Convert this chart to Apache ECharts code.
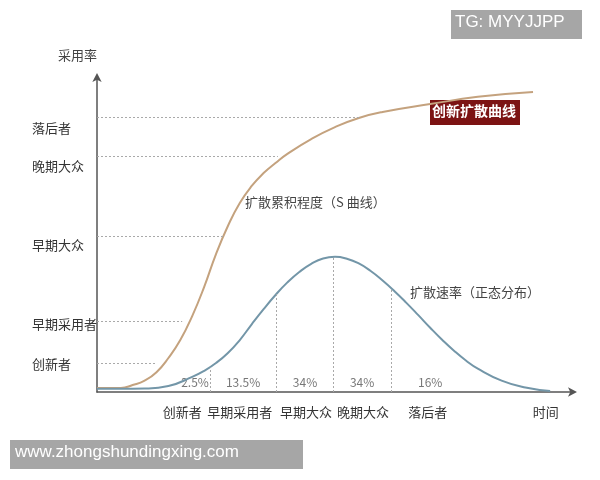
<!DOCTYPE html>
<html>
<head>
<meta charset="utf-8">
<script src="https://cdn.jsdelivr.net/npm/echarts@6/dist/echarts.min.js"></script>
<style>
  html, body { margin: 0; padding: 0; background: #fff; }
  #chart { width: 600px; height: 480px; }
</style>
</head>
<body>
<div id="chart"></div>
<script>
// 累积采用曲线（S 曲线），读图估计 [时间, 采用率]
const sCurve = [
  [0, 1.3], [5, 1.3], [7.5, 2.2], [10, 3.6], [12.5, 6.3], [15, 10.8], [17.5, 16.5],
  [20, 24.1], [22.5, 33.3], [25, 43.8], [27.5, 52.7], [30, 60.0],
  [32.5, 65.4], [35, 69.5], [37.5, 72.7], [40, 75.6], [45, 80.3],
  [50, 84.1], [55, 87.0], [60, 88.9], [70, 91.4], [80, 93.7], [91.6, 95.2]
];
// 扩散速率（正态分布）
const bellCurve = [
  [0, 1.0], [5, 1.0], [10, 1.1], [15, 1.9], [20, 4.8], [22.5, 6.7],
  [25, 9.2], [27.5, 12.4], [30, 16.5], [32.5, 21.5], [35, 26.3],
  [37.5, 30.8], [40, 34.8], [42.5, 38.1], [45, 40.7], [47.5, 42.4],
  [50, 42.9], [52.5, 42.3], [55, 40.8], [57.5, 38.4], [60, 35.4],
  [62.5, 32.0], [65, 28.3], [67.5, 24.4], [70, 20.4], [72.5, 16.6],
  [75, 13.1], [77.5, 10.0], [80, 7.4], [85, 3.6], [90, 1.4], [95.2, 0.3]
];

// 纵轴：各群体的采用率水平线
const groupNames = ['创新者', '早期采用者', '早期大众', '晚期大众', '落后者'];
const guideLevels = [9.2, 22.5, 49.5, 75.0, 87.3];   // 虚线高度
const guideEnds = [12.2, 17.9, 26.5, 38.0, 55.3];    // 虚线与 S 曲线交点
const yLabelPos = [8.9, 21.6, 46.7, 71.7, 83.8];     // 纵轴文字位置

// 横轴：分界线与各段占比
const dividers = [23.7, 37.6, 49.6, 61.8];
const dividerTops = [7.8, 31.0, 42.9, 33.0];
const shareLabels = ['2.5%', '13.5%', '34%', '34%', '16%'];
const sharePos = [20.6, 30.7, 43.7, 55.7, 70.0];
const xLabelNames = ['创新者', '早期采用者', '早期大众', '晚期大众', '落后者', '时间'];
const xLabelPos = [17.9, 30.0, 43.9, 55.9, 69.5, 94.3];

const FONT = '"Noto Sans CJK SC", "Noto Sans", sans-serif';
const dotted = { color: '#a9a9a9', type: [2, 2], width: 1 };

const chart = echarts.init(document.getElementById('chart'));
chart.setOption({
  animation: false,
  textStyle: { fontFamily: FONT },
  grid: { left: 97, right: 27, top: 77, bottom: 88 },
  xAxis: {
    type: 'value', min: 0, max: 100,
    splitLine: { show: false },
    axisTick: { show: false },
    axisLine: {
      lineStyle: { color: '#555', width: 1.5 },
      symbol: ['none', 'arrow'], symbolSize: [7, 9], symbolOffset: [0, 4]
    },
    axisLabel: {
      customValues: xLabelPos,
      formatter: (v) => xLabelNames[xLabelPos.indexOf(v)] || '',
      color: '#333', fontSize: 13, margin: 14, fontFamily: FONT
    }
  },
  yAxis: {
    type: 'value', min: 0, max: 100,
    name: '采用率', nameGap: 15,
    nameTextStyle: { color: '#444', fontSize: 13, align: 'right', fontFamily: FONT },
    splitLine: { show: false },
    axisTick: { show: false },
    axisLine: {
      lineStyle: { color: '#555', width: 1.5 },
      symbol: ['none', 'arrow'], symbolSize: [7, 9], symbolOffset: [0, 4]
    },
    axisLabel: {
      customValues: yLabelPos,
      formatter: (v) => groupNames[yLabelPos.indexOf(v)] || '',
      color: '#333', fontSize: 13, margin: 65, align: 'left', fontFamily: FONT
    }
  },
  series: [
    {
      name: 'S 曲线', type: 'line', data: sCurve, smooth: true,
      showSymbol: false, z: 3,
      lineStyle: { color: '#c4a27e', width: 2 },
      markLine: {
        silent: true, symbol: 'none', label: { show: false },
        lineStyle: dotted,
        data: guideLevels.map((y, i) => [{ coord: [0, y] }, { coord: [guideEnds[i], y] }])
      }
    },
    {
      name: '扩散速率', type: 'line', data: bellCurve, smooth: true,
      showSymbol: false, z: 3,
      lineStyle: { color: '#7396a8', width: 2 },
      markLine: {
        silent: true, symbol: 'none', label: { show: false },
        lineStyle: dotted,
        data: dividers.map((x, i) => [{ coord: [x, 0] }, { coord: [x, dividerTops[i]] }])
      }
    },
    {
      name: '占比', type: 'scatter', symbolSize: 0, silent: true,
      data: sharePos.map((x, i) => ({ value: [x, 2.9], name: shareLabels[i] })),
      label: {
        show: true, position: 'inside', formatter: '{b}',
        color: '#555', fontSize: 12, fontFamily: FONT
      }
    }
  ],
  graphic: [
    { type: 'rect', z: 1, shape: { x: 430, y: 100, width: 90, height: 25 }, style: { fill: '#7c1313' } },
    { type: 'text', z: 1, left: 432, top: 104, style: { text: '创新扩散曲线', fill: '#fff', font: 'bold 14px ' + FONT } },
    { type: 'text', left: 245, top: 196, style: { text: '扩散累积程度（S 曲线）', fill: '#444', font: '13px ' + FONT } },
    { type: 'text', left: 410, top: 286, style: { text: '扩散速率（正态分布）', fill: '#444', font: '13px ' + FONT } },
    { type: 'rect', shape: { x: 451, y: 10, width: 131, height: 29 }, style: { fill: '#a6a6a6' } },
    { type: 'text', left: 455, top: 14, style: { text: 'TG: MYYJJPP', fill: '#fff', font: '17px "Liberation Sans", Arial, sans-serif' } },
    { type: 'rect', shape: { x: 10, y: 440, width: 293, height: 29 }, style: { fill: '#a6a6a6' } },
    { type: 'text', left: 15, top: 444, style: { text: 'www.zhongshundingxing.com', fill: '#fff', font: '17px "Liberation Sans", Arial, sans-serif' } }
  ]
});
</script>
</body>
</html>
